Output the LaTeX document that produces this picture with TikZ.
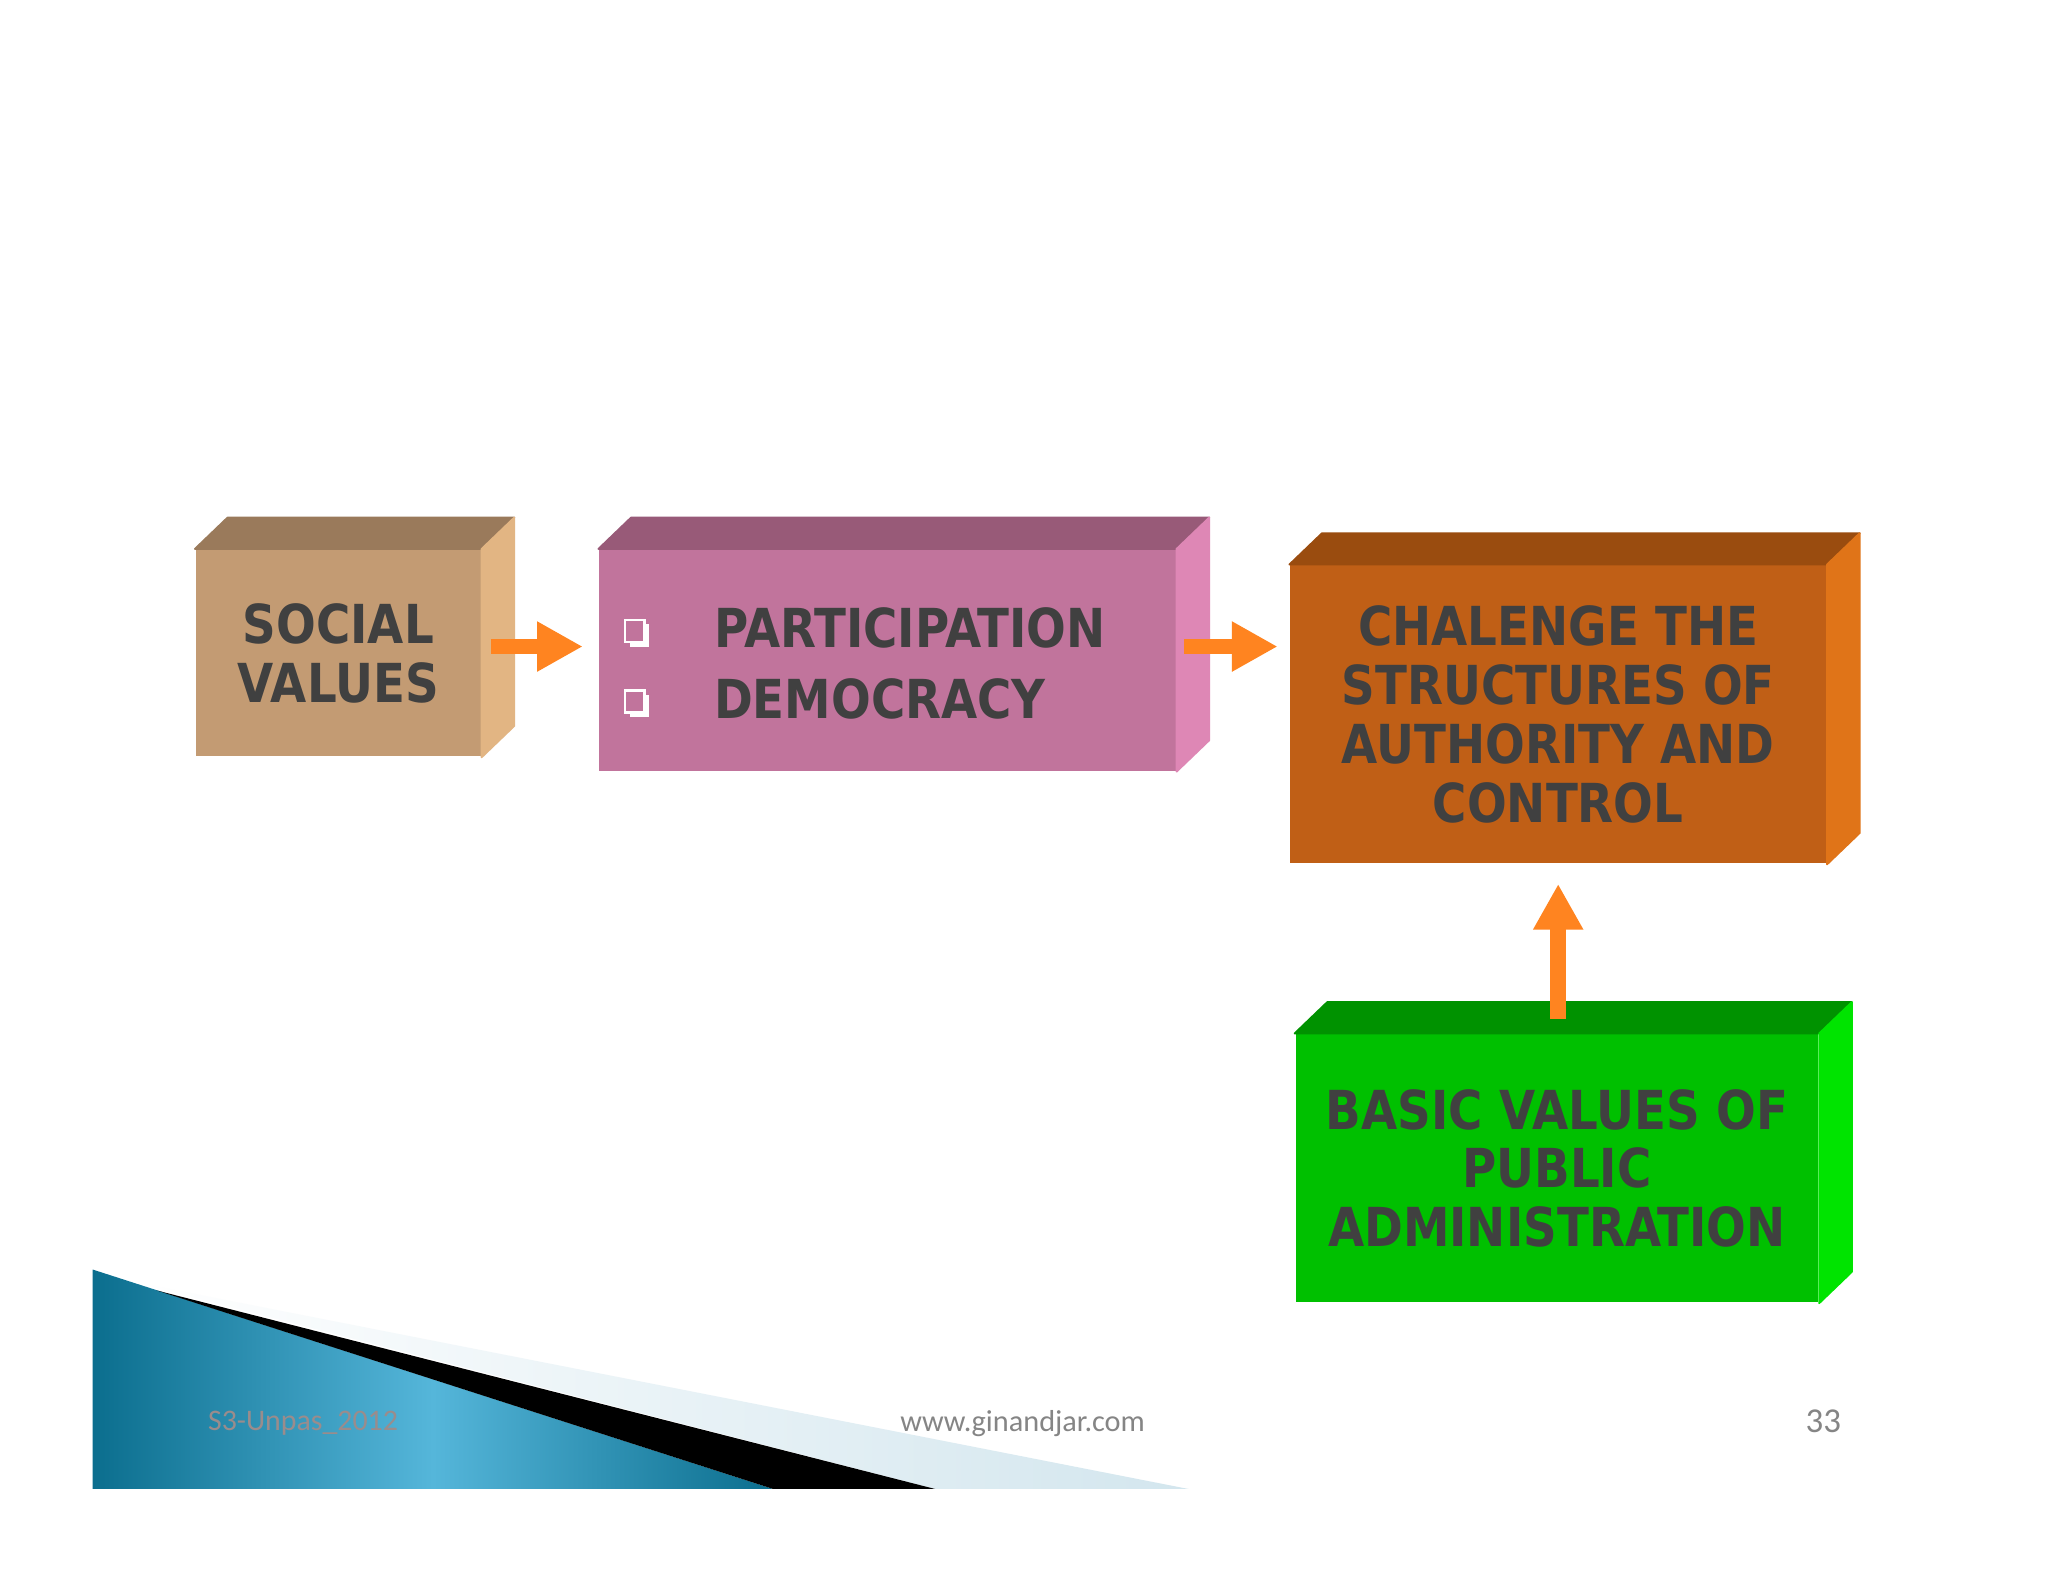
\documentclass[tikz,border=0pt]{standalone}
\usepackage{fontspec}
\newfontfamily\boxfont{DejaVu Sans}[FakeStretch=0.87]
\newfontfamily\footfont{Carlito}
\usetikzlibrary{positioning,calc,arrows.meta,shadows}

\definecolor{tanfront}{HTML}{C39B73}
\definecolor{tantop}{HTML}{9A7A5B}
\definecolor{tanside}{HTML}{E2B583}
\definecolor{pinkfront}{HTML}{C1749C}
\definecolor{pinktop}{HTML}{985A78}
\definecolor{pinkside}{HTML}{DE87B5}
\definecolor{rustfront}{HTML}{C05F16}
\definecolor{rusttop}{HTML}{9A4C0F}
\definecolor{rustside}{HTML}{E07418}
\definecolor{greenfront}{HTML}{00C000}
\definecolor{greentop}{HTML}{009200}
\definecolor{greenside}{HTML}{00E400}
\definecolor{arroworange}{HTML}{FF8420}
\definecolor{boxtext}{HTML}{404040}
\definecolor{tealdark}{HTML}{0B6E8E}
\definecolor{teallight}{HTML}{55B6DA}
\definecolor{paleblue}{HTML}{D3E6EE}
\definecolor{footgrey}{HTML}{858585}
\definecolor{taggrey}{HTML}{9A8C8C}

\tikzset{
  front/.style={inner sep=0pt,align=center,text=boxtext,font=\boxfont\bfseries\fontsize{11.7}{12.8}\selectfont},
  face/.style={line width=0.4pt,line join=round},
  flow/.style={draw=arroworange,line width=0.12cm,-{Triangle[length=0.35cm,width=0.36cm]}},
  chk/.style={draw=white,fill=pinkfront,line width=0.55pt,minimum width=0.15cm,minimum height=0.17cm,inner sep=0pt,
    general shadow={fill=white,shadow xshift=0.035cm,shadow yshift=-0.035cm}},
}

\begin{document}
\begin{tikzpicture}[x=0.01cm,y=-0.01cm]
		\useasboundingbox (0,0) rectangle (1568,1211);
		\fill[white] (0,0) rectangle (1568,1211);
		
		% footer band
		\shade[left color=tealdark,right color=tealdark,middle color=teallight] (71,972) -- (592,1140) -- (71,1140) -- cycle;
		\shade[left color=white,right color=paleblue] (100,981) -- (910,1140) -- (716,1140) -- cycle;
		\fill[black] (120,988) -- (716,1140) -- (592,1140) -- cycle;
		
		\node[font=\footfont\fontsize{6.5}{8}\selectfont,text=taggrey] (tag) at (232,1090) {S3-Unpas\_2012};
		\node[font=\footfont\fontsize{6.6}{8}\selectfont,text=footgrey] (site) at (783,1090) {www.ginandjar.com};
		\node[font=\footfont\fontsize{7.6}{9}\selectfont,text=footgrey] (pgno) at (1396,1088) {33};
		
		% boxes
		\node[front,fill=tanfront,minimum width=2.18cm,minimum height=1.58cm] (social) at (259,500) {SOCIAL\\VALUES};
		\node[front,fill=pinkfront,minimum width=4.41cm,minimum height=1.69cm] (particip) at (679.5,505.5) {};
		\node[front,fill=rustfront,minimum width=4.10cm,minimum height=2.28cm] (chal) at (1193,547) {CHALENGE THE\\STRUCTURES OF\\AUTHORITY AND\\CONTROL};
		\node[front,fill=greenfront,minimum width=4.00cm,minimum height=2.05cm] (basic) at (1192,894.5) {BASIC VALUES OF\\PUBLIC\\ADMINISTRATION};
		
		\filldraw[face,tantop] (social.north west) -- ++(25,-24) -- ($(social.north east)+(25,-24)$) -- (social.north east) -- cycle;
		\filldraw[face,tanside] (social.north east) -- ++(25,-24) -- ($(social.south east)+(25,-24)$) -- (social.south east) -- cycle;
		\filldraw[face,pinktop] (particip.north west) -- ++(25,-24) -- ($(particip.north east)+(25,-24)$) -- (particip.north east) -- cycle;
		\filldraw[face,pinkside] (particip.north east) -- ++(25,-24) -- ($(particip.south east)+(25,-24)$) -- (particip.south east) -- cycle;
		\filldraw[face,rusttop] (chal.north west) -- ++(25,-24) -- ($(chal.north east)+(25,-24)$) -- (chal.north east) -- cycle;
		\filldraw[face,rustside] (chal.north east) -- ++(25,-24) -- ($(chal.south east)+(25,-24)$) -- (chal.south east) -- cycle;
		\filldraw[face,greentop] (basic.north west) -- ++(25,-24) -- ($(basic.north east)+(25,-24)$) -- (basic.north east) -- cycle;
		\filldraw[face,greenside] (basic.north east) -- ++(25,-24) -- ($(basic.south east)+(25,-24)$) -- (basic.south east) -- cycle;
		
		\node[chk] (chk1) at (486,483) {};
		\node[chk] (chk2) at (486,537) {};
		\node[front,align=left,anchor=west,font=\boxfont\bfseries\fontsize{11.7}{15.4}\selectfont] (plist) at (546,508) {PARTICIPATION\\DEMOCRACY};
		
		\draw[flow] ($(social.east)+(7,-5)$) -- ($(particip.west)+(-12,-10.5)$);
		\draw[flow] ($(particip.east)+(6,-10.5)$) -- ($(chal.west)+(-9,-52)$);
		\draw[flow] ($(basic.north)+(1,-11)$) -- ($(chal.south)+(0,15)$);
	\end{tikzpicture}
\end{document}
